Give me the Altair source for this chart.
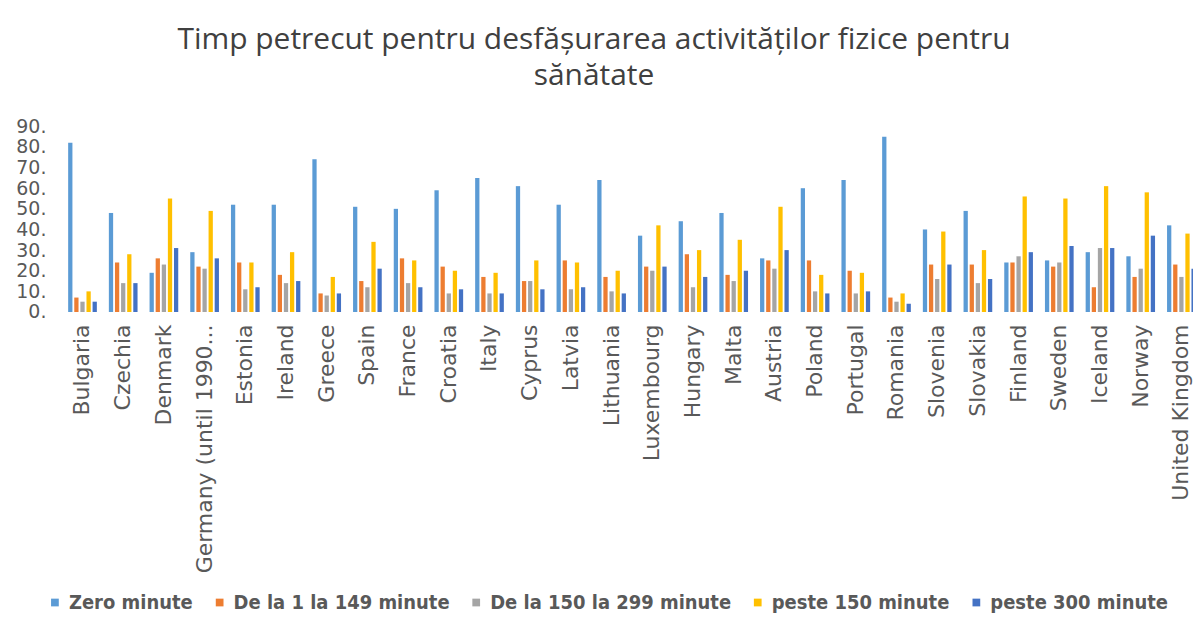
import altair as alt
import pandas as pd

countries = ["Bulgaria", "Czechia", "Denmark", "Germany (until 1990...", "Estonia", "Ireland",
             "Greece", "Spain", "France", "Croatia", "Italy", "Cyprus", "Latvia", "Lithuania",
             "Luxembourg", "Hungary", "Malta", "Austria", "Poland", "Portugal", "Romania",
             "Slovenia", "Slovakia", "Finland", "Sweden", "Iceland", "Norway", "United Kingdom"]

series = ["Zero minute", "De la 1 la 149 minute", "De la 150 la 299 minute",
          "peste 150 minute", "peste 300 minute"]

zero_min = [82, 48, 19, 29, 52, 52, 74, 51, 50, 59, 65, 61, 52, 64,
            37, 44, 48, 26, 60, 64, 85, 40, 49, 24, 25, 29, 27, 42]
de_1_149 = [7, 24, 26, 22, 24, 18, 9, 15, 26, 22, 17, 15, 25, 17,
            22, 28, 18, 25, 25, 20, 7, 23, 23, 24, 22, 12, 17, 23]
de_150_299 = [5, 14, 23, 21, 11, 14, 8, 12, 14, 9, 9, 15, 11, 10,
              20, 12, 15, 21, 10, 9, 5, 16, 14, 27, 24, 31, 21, 17]
peste_150 = [10, 28, 55, 49, 24, 29, 17, 34, 25, 20, 19, 25, 24, 20,
             42, 30, 35, 51, 18, 19, 9, 39, 30, 56, 55, 61, 58, 38]
peste_300 = [5, 14, 31, 26, 12, 15, 9, 21, 12, 11, 9, 11, 12, 9,
             22, 17, 20, 30, 9, 10, 4, 23, 16, 29, 32, 31, 37, 21]

colors = ["#5B9BD5", "#ED7D31", "#A5A5A5", "#FFC000", "#4472C4"]

rows = []
for s, vals in zip(series, [zero_min, de_1_149, de_150_299, peste_150, peste_300]):
    for c, v in zip(countries, vals):
        rows.append({"country": c, "series": s, "value": v})
df = pd.DataFrame(rows)

chart = alt.Chart(df).mark_bar().encode(
    x=alt.X("country:N", sort=countries,
            scale=alt.Scale(range=[0, 1146], paddingInner=0.25, paddingOuter=0.18),
            axis=alt.Axis(title=None, labelAngle=-90, labelFontSize=22, labelColor="#595959",
                          labelFont="DejaVu Sans", domain=False, ticks=False,
                          labelPadding=12, labelLimit=400)),
    xOffset=alt.XOffset("series:N", sort=series,
                        scale=alt.Scale(paddingInner=0.3, paddingOuter=0.15)),
    y=alt.Y("value:Q", scale=alt.Scale(domain=[0, 90], nice=False),
            axis=alt.Axis(values=list(range(0, 91, 10)), labelExpr="datum.value + '.'",
                          grid=False, domain=False, ticks=False, title=None,
                          labelFontSize=19, labelFont="DejaVu Sans", labelColor="#595959",
                          labelPadding=14)),
    color=alt.Color("series:N", sort=series,
                    scale=alt.Scale(domain=series, range=colors),
                    legend=alt.Legend(title=None, orient="none", direction="horizontal",
                                      columns=5, legendX=-15, legendY=467,
                                      symbolType="square", symbolSize=60,
                                      labelFontSize=20, labelFontWeight="bold",
                                      labelFont="Liberation Sans Narrow, DejaVu Sans Condensed, Liberation Sans",
                                      labelColor="#595959", columnPadding=16,
                                      symbolOffset=0, labelOffset=4, labelLimit=400))
).properties(
    width=1134,
    height=186,
    title=alt.TitleParams(["Timp petrecut pentru desfășurarea activităților fizice pentru", "sănătate"],
                          fontSize=30, font="Open Sans", fontWeight="normal", color="#404040",
                          anchor="middle", dx=-32, offset=26, lineHeight=36),
    autosize=alt.AutoSizeParams(type="none"),
    padding={"left": 52, "top": 118, "right": 1, "bottom": 305}
).configure_view(stroke=None)

chart.save("out.html", embed_options={"renderer": "svg", "actions": False})
